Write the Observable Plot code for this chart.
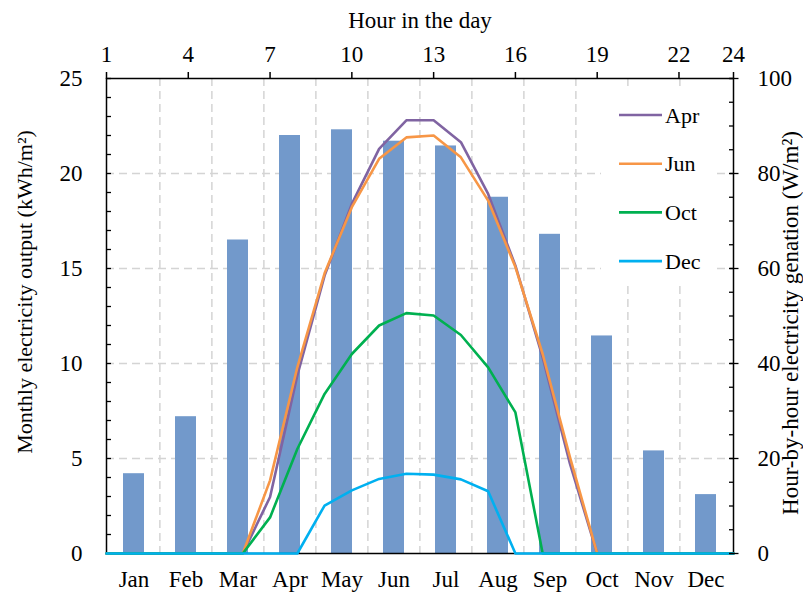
<!DOCTYPE html>
<html>
<head>
<meta charset="utf-8">
<script src="https://cdn.jsdelivr.net/npm/d3@7"></script>
<script src="https://cdn.jsdelivr.net/npm/@observablehq/plot@0.6"></script>
<style>
  body { margin: 0; background: white; }
  #wrap { position: relative; width: 803px; height: 593px; }
  #wrap svg { position: absolute; left: 0; top: 0; }
</style>
</head>
<body>
<div id="wrap"></div>
<script>
// ---- data ----
const months = ["Jan","Feb","Mar","Apr","May","Jun","Jul","Aug","Sep","Oct","Nov","Dec"];
const monthlyOutput = [4.2, 7.2, 16.5, 22.0, 22.3, 21.7, 21.45, 18.75, 16.8, 11.45, 5.4, 3.1];

const hours = [1,2,3,4,5,6,7,8,9,10,11,12,13,14,15,16,17,18,19,20,21,22,23,24];
const hourTicks = [1,4,7,10,13,16,19,22,24];
const aprSeries = [0,0,0,0,0,0,11.9,37.5,58.5,73.6,85.2,91.2,91.2,86.6,75.7,60.6,41.3,18.9,0,0,0,0,0,0];
const junSeries = [0,0,0,0,0,0,15.4,39.2,59.0,72.9,83.1,87.6,88.0,83.4,74.3,60.3,42.0,20.3,0,0,0,0,0,0];
const octSeries = [0,0,0,0,0,0,7.6,22.0,33.6,42.0,48.0,50.6,50.1,46.0,39.2,29.7,0,0,0,0,0,0,0,0];
const decSeries = [0,0,0,0,0,0,0,0,10.1,13.3,15.7,16.8,16.6,15.6,13.1,0,0,0,0,0,0,0,0,0];
const seriesNames = ["Apr","Jun","Oct","Dec"];
const seriesColors = ["#8064A2","#F79646","#00B050","#00B0F0"];

const leftTicksMinor = d3.range(0, 26, 1);
const leftTicksMajor = [0,5,10,15,20,25];
const rightTicksMinor = d3.range(0, 101, 5);
const rightTicksMajor = [0,20,40,60,80,100];

const topTitle = "Hour in the day";
const leftTitle = "Monthly electricity output (kWh/m²)";
const rightTitle = "Hour-by-hour electricity genation (W/m²)";

// ---- tables ----
const barData = months.map((m, i) => ({month: m, value: monthlyOutput[i]}));
const allSeries = [aprSeries, junSeries, octSeries, decSeries];
const lineData = allSeries.flatMap((s, k) => hours.map((h, i) => ({hour: h, value: s[i], series: seriesNames[k]})));

// ---- layout ----
const W = 803, H = 593;
const mL = 106, mR = 70, mT = 78, mB = 40;
const step = (W - mL - mR) / months.length;
const font = "'Liberation Serif', 'Times New Roman', serif";
const gridStyle = {stroke: "#d4d4d4", strokeWidth: 1.5, strokeDasharray: "8,5"};
const tickFont = 23;

const back = Plot.plot({
  width: W, height: H,
  marginLeft: mL, marginRight: mR, marginTop: mT, marginBottom: mB,
  style: {fontFamily: font, fontSize: "21px", background: "transparent", color: "black"},
  x: {type: "band", domain: months, paddingInner: 0.59, paddingOuter: 0.295, axis: null},
  y: {domain: [0, 25], axis: null},
  marks: [
    Plot.ruleY([5, 10, 15, 20], {y: d => d, ...gridStyle}),
    Plot.ruleX(months.slice(1), {x: d => d, dx: -step / 2, ...gridStyle}),
    Plot.barY(barData, {x: "month", y: "value", fill: "#7299CB"}),
    Plot.frame({stroke: "black", strokeWidth: 1.5}),
    Plot.axisY(leftTicksMinor, {anchor: "left", tickSize: 5, dx: 5, tickFormat: () => "", label: null, strokeWidth: 1.3}),
    Plot.axisY(leftTicksMajor, {anchor: "left", tickSize: 0, tickPadding: 24, fontSize: tickFont, label: null}),
    Plot.axisX(months, {anchor: "bottom", tickSize: 0, tickPadding: 17, fontSize: tickFont, label: null}),
    Plot.text([leftTitle], {text: d => d, frameAnchor: "left", textAnchor: "middle", lineAnchor: "middle",
      rotate: -90, dx: -(mL - 24), dy: -24, fontSize: 22})
  ]
});

const front = Plot.plot({
  width: W, height: H,
  marginLeft: mL, marginRight: mR, marginTop: mT, marginBottom: mB,
  style: {fontFamily: font, fontSize: "21px", background: "transparent", color: "black"},
  x: {domain: [1, 24], axis: null},
  y: {domain: [0, 100], axis: null},
  color: {domain: seriesNames, range: seriesColors},
  marks: [
    Plot.line(lineData, {x: "hour", y: "value", z: "series", stroke: "series", strokeWidth: 2.6}),
    Plot.axisX(hourTicks, {anchor: "top", tickSize: 7, tickPadding: 10, fontSize: tickFont, strokeWidth: 1.5, label: null}),
    Plot.axisY(rightTicksMinor, {anchor: "right", tickSize: 5, dx: -5, tickFormat: () => "", label: null, strokeWidth: 1.3}),
    Plot.axisY(rightTicksMajor, {anchor: "right", tickSize: 9, dx: -4.5, tickFormat: () => "", label: null, strokeWidth: 1.3}),
    Plot.axisY(rightTicksMajor, {anchor: "right", tickSize: 0, tickPadding: 24, fontSize: tickFont, label: null}),
    Plot.text([topTitle], {text: d => d, frameAnchor: "top", textAnchor: "middle", lineAnchor: "middle",
      dy: -(mT - 20), fontSize: 23}),
    Plot.text([rightTitle], {text: d => d, frameAnchor: "right", textAnchor: "middle", lineAnchor: "middle",
      rotate: -90, dx: 57, dy: 7, fontSize: 23})
  ]
});

const wrap = document.getElementById("wrap");
wrap.appendChild(back);
wrap.appendChild(front);

// ---- legend ----
const svg = d3.select(front);
const lg = svg.append("g").attr("font-family", font).attr("font-size", 22).attr("text-anchor", "start");
lg.append("rect").attr("x", 601).attr("y", 86).attr("width", 114).attr("height", 198).attr("fill", "white");
seriesNames.forEach((name, i) => {
  const y = 115 + i * 48.7;
  lg.append("line").attr("x1", 619).attr("x2", 662).attr("y1", y).attr("y2", y)
    .attr("stroke", seriesColors[i]).attr("stroke-width", 2.6);
  lg.append("text").attr("x", 665).attr("y", y).attr("dy", "0.35em").attr("fill", "black").text(name);
});
</script>
</body>
</html>
